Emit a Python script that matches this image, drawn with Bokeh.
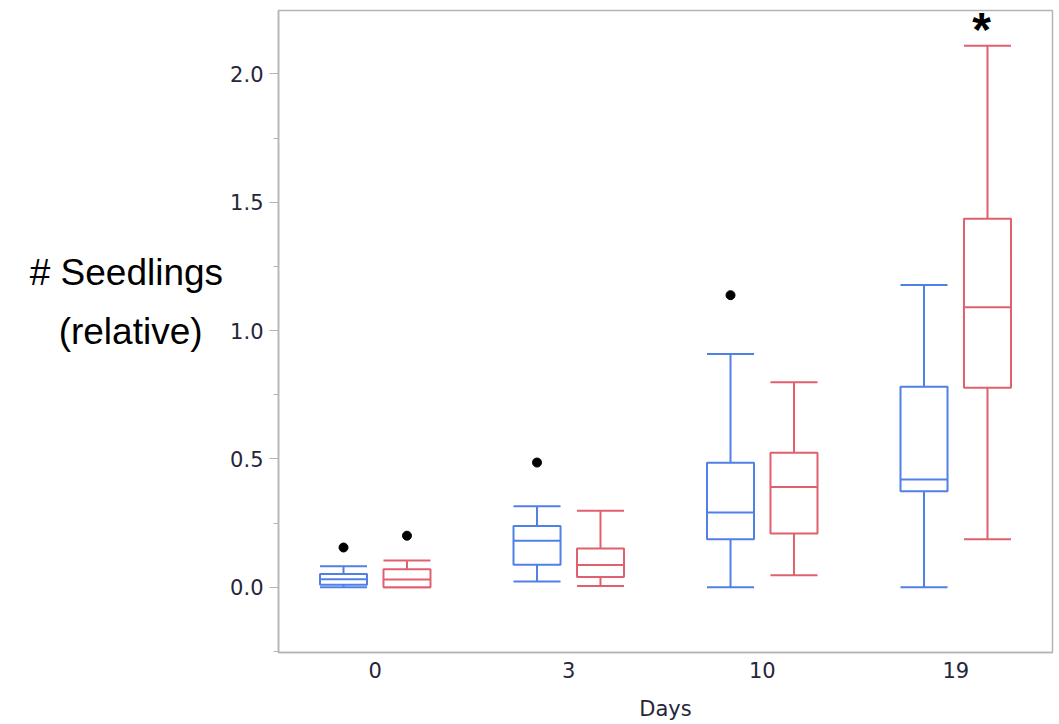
from bokeh.plotting import figure
from bokeh.models import ColumnDataSource, FactorRange, Range1d, Label, PrintfTickFormatter
from bokeh.transform import dodge
from bokeh.embed import file_html
from bokeh.resources import INLINE

# ---- data ----
days = ["0", "3", "10", "19"]

a_lower = [0.000, 0.023, 0.000, 0.000]
a_q1 = [0.010, 0.088, 0.187, 0.374]
a_med = [0.031, 0.181, 0.291, 0.420]
a_q3 = [0.052, 0.239, 0.485, 0.781]
a_upper = [0.082, 0.316, 0.909, 1.178]
a_out_day = ["0", "3", "10"]
a_out_val = [0.155, 0.486, 1.138]

b_lower = [0.000, 0.005, 0.047, 0.187]
b_q1 = [0.000, 0.040, 0.210, 0.777]
b_med = [0.030, 0.087, 0.391, 1.091]
b_q3 = [0.070, 0.151, 0.524, 1.436]
b_upper = [0.104, 0.298, 0.799, 2.110]
b_out_day = ["0"]
b_out_val = [0.201]

y_label = "# Seedlings\n(relative)\u00a0\u00a0\n"
x_label = "Days"
signif_mark = "*"

BLUE = "#5080e6"
RED = "#e0606f"
AXIS_GREY = "#b4b4b4"
TICK_TXT = "#26263a"

p = figure(x_range=FactorRange(*days), y_range=Range1d(-0.254, 2.247),
           frame_width=774, frame_height=642,
           min_border_left=278, min_border_right=6, min_border_top=10,
           min_border_bottom=10,
           output_backend="svg", toolbar_location=None)
p.background_fill_color = "white"
p.border_fill_color = "white"
p.outline_line_color = AXIS_GREY
p.outline_line_width = 1.5
p.xgrid.visible = False
p.ygrid.visible = False

# y axis
p.yaxis.ticker.desired_num_ticks = 5
p.yaxis.ticker.num_minor_ticks = 2
p.yaxis.axis_line_color = AXIS_GREY
p.yaxis.axis_line_width = 1.5
p.yaxis.major_tick_line_color = AXIS_GREY
p.yaxis.minor_tick_line_color = AXIS_GREY
p.yaxis.major_tick_out = 9
p.yaxis.major_tick_in = 0
p.yaxis.minor_tick_out = 5
p.yaxis.minor_tick_in = 0
p.yaxis.major_label_standoff = 6
p.yaxis.major_label_text_font = "DejaVu Sans"
p.yaxis.major_label_text_font_size = "21px"
p.yaxis.major_label_text_color = TICK_TXT
p.yaxis.formatter = PrintfTickFormatter(format="%.1f")
p.yaxis.axis_label = y_label
p.yaxis.axis_label_orientation = "horizontal"
p.yaxis.axis_label_standoff = 4
p.yaxis.axis_label_text_font = "Liberation Sans"
p.yaxis.axis_label_text_font_size = "37px"
p.yaxis.axis_label_text_font_style = "normal"
p.yaxis.axis_label_text_color = "black"
p.yaxis.axis_label_text_align = "center"
p.yaxis.axis_label_text_line_height = 1.44

# x axis
p.xaxis.axis_line_color = AXIS_GREY
p.xaxis.axis_line_width = 1.5
p.xaxis.major_tick_line_color = None
p.xaxis.minor_tick_line_color = None
p.xaxis.major_tick_out = 0
p.xaxis.major_label_standoff = 9
p.xaxis.major_label_text_font = "DejaVu Sans"
p.xaxis.major_label_text_font_size = "21px"
p.xaxis.major_label_text_color = TICK_TXT
p.xaxis.axis_label = x_label
p.xaxis.axis_label_standoff = 16
p.xaxis.axis_label_text_font = "DejaVu Sans"
p.xaxis.axis_label_text_font_size = "21px"
p.xaxis.axis_label_text_font_style = "normal"
p.xaxis.axis_label_text_color = TICK_TXT

OFF = 0.164
BW = 0.243
LW = 2


def draw_group(lower, q1, med, q3, upper, out_day, out_val, off, color):
    src = ColumnDataSource(dict(day=days, lower=lower, q1=q1, med=med, q3=q3, upper=upper))
    xc = dodge("day", off, range=p.x_range)
    xl = dodge("day", off - BW / 2, range=p.x_range)
    xr = dodge("day", off + BW / 2, range=p.x_range)
    # whiskers
    p.segment(x0=xc, x1=xc, y0="q3", y1="upper", source=src, line_color=color, line_width=LW)
    p.segment(x0=xc, x1=xc, y0="q1", y1="lower", source=src, line_color=color, line_width=LW)
    # caps
    p.segment(x0=xl, x1=xr, y0="upper", y1="upper", source=src, line_color=color, line_width=LW)
    p.segment(x0=xl, x1=xr, y0="lower", y1="lower", source=src, line_color=color, line_width=LW)
    # box
    p.vbar(x=xc, width=BW, top="q3", bottom="q1", source=src,
           fill_color="white", line_color=color, line_width=LW)
    # median
    p.segment(x0=xl, x1=xr, y0="med", y1="med", source=src, line_color=color, line_width=LW)
    # outliers
    osrc = ColumnDataSource(dict(day=out_day, val=out_val))
    p.scatter(x=dodge("day", off, range=p.x_range), y="val", source=osrc,
              size=9, fill_color="black", line_color="black")


draw_group(a_lower, a_q1, a_med, a_q3, a_upper, a_out_day, a_out_val, -OFF, BLUE)
draw_group(b_lower, b_q1, b_med, b_q3, b_upper, b_out_day, b_out_val, OFF, RED)

# significance asterisk above the day-19 red box
p.add_layout(Label(x=3.5 + OFF - 0.03, y=2.173, text=signif_mark, text_align="center",
                   text_baseline="alphabetic", text_font="Liberation Sans",
                   text_font_style="bold", text_font_size="48px", text_color="black"))

open("out.html", "w").write(file_html(p, INLINE))
